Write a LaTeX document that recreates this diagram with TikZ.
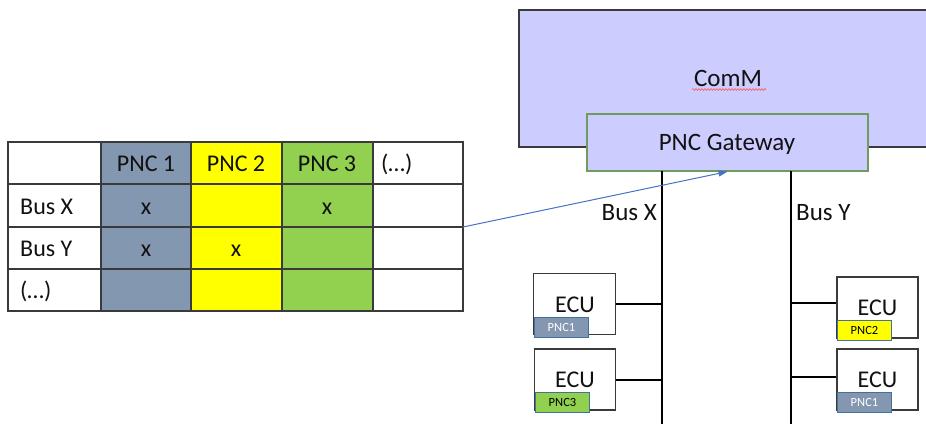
\documentclass[tikz,border=0pt]{standalone}
\usepackage{fontspec}
\setmainfont{Carlito}
\usetikzlibrary{decorations.pathmorphing,arrows.meta}
\definecolor{pncone}{HTML}{8497B0}
\definecolor{pnctwo}{HTML}{FFFF00}
\definecolor{pncthree}{HTML}{92D050}
\definecolor{commfill}{HTML}{CCCCFF}
\definecolor{gwborder}{HTML}{709B5C}
\definecolor{tagborder}{HTML}{41719C}
\definecolor{arrowblue}{HTML}{4472C4}
\definecolor{linegray}{HTML}{3A3A3A}
\definecolor{txt}{HTML}{111111}
\tikzset{
  bigtext/.style={font=\fontsize{24}{28}\selectfont, text=txt, inner sep=0pt},
  tableline/.style={draw=linegray, line width=1.2pt},
  ecubox/.style={draw=linegray, line width=1.2pt, fill=white, inner sep=0pt,
    minimum width=81pt, minimum height=61pt},
  tagbox/.style={draw=tagborder, line width=1pt, inner sep=0pt, anchor=north west,
    minimum width=54pt, minimum height=20pt, font=\fontsize{12.5}{14}\selectfont},
  bus/.style={draw=black, line width=2pt},
}
\begin{document}
\begin{tikzpicture}[x=1pt,y=-1pt]
\useasboundingbox (0,0) rectangle (926,423);

% ---------- table ----------
\fill[pncone]   (101,142) rectangle (191,311);
\fill[pnctwo]   (191,142) rectangle (282,311);
\fill[pncthree] (282,142) rectangle (373,311);
\draw[tableline] (8,142) rectangle (463,311);
\foreach \x in {101,191,282,373} \draw[tableline] (\x,142) -- (\x,311);
\foreach \y in {184,227,269} \draw[tableline] (8,\y) -- (463,\y);

\node[bigtext, anchor=base] (h1) at (146,171.5) {PNC 1};
\node[bigtext, anchor=base] (h2) at (236,171.5) {PNC 2};
\node[bigtext, anchor=base] (h3) at (327,171.5) {PNC 3};
\node[bigtext, anchor=base west] (h4) at (381,171.5) {(…)};
\node[bigtext, anchor=base west] (r1) at (20,214) {Bus X};
\node[bigtext, anchor=base west] (r2) at (20,256.5) {Bus Y};
\node[bigtext, anchor=base west] (r3) at (20,298.5) {(…)};
\node[bigtext, anchor=base] (x11) at (146,214) {x};
\node[bigtext, anchor=base] (x13) at (327,214) {x};
\node[bigtext, anchor=base] (x21) at (146,256.5) {x};
\node[bigtext, anchor=base] (x22) at (236,256.5) {x};
\coordinate (tblR) at (463,227);

% ---------- ComM ----------
\node[draw=linegray, line width=1.2pt, fill=commfill, minimum width=416pt, minimum height=137pt,
      inner sep=0pt] (comm) at (727,78.5) {};
\node[bigtext, font=\fontsize{25}{28}\selectfont, anchor=base] (commtxt) at (728,86.5) {ComM};
\draw[red!65, line width=0.6pt, decorate, decoration={snake, amplitude=0.9pt, segment length=3pt}]
  (692,89.5) -- (766,89.5);

\node[draw=gwborder, line width=1.2pt, fill=commfill, minimum width=281pt, minimum height=57pt,
      inner sep=0pt] (gw) at (727.5,142.5) {};
\node[bigtext, font=\fontsize{25}{28}\selectfont, anchor=base] (gwtxt) at (727,150) {PNC Gateway};

% ---------- buses ----------
\coordinate (bxtop) at (662,171);
\coordinate (bxbot) at (662,430);
\coordinate (bytop) at (791,171);
\coordinate (bybot) at (791,430);
\draw[bus] (bxtop) -- (bxbot);
\draw[bus] (bytop) -- (bybot);
\node[bigtext, anchor=base east, font=\fontsize{25}{28}\selectfont] (lbx) at (657,220) {Bus X};
\node[bigtext, anchor=base west, font=\fontsize{25}{28}\selectfont] (lby) at (796,220) {Bus Y};

% ---------- ECUs ----------
\node[ecubox, minimum width=82pt] (e1) at (574.5,304) {};
\node[ecubox, minimum width=81pt] (e2) at (575,379.5) {};
\node[ecubox] (e3) at (877.5,307.5) {};
\node[ecubox] (e4) at (877.5,379.5) {};
\node[bigtext, anchor=base] (e1t) at (575,312.5) {ECU};
\node[bigtext, anchor=base] (e2t) at (575,387.5) {ECU};
\node[bigtext, anchor=base] (e3t) at (877.5,315) {ECU};
\node[bigtext, anchor=base] (e4t) at (877.5,387.5) {ECU};

\node[tagbox, fill=pncone, text=white] (t1) at (534,316.5) {PNC1};
\node[tagbox, fill=pncthree, text=black] (t2) at (535,391.5) {PNC3};
\node[tagbox, fill=pnctwo, text=black] (t3) at (837,319.5) {PNC2};
\node[tagbox, fill=pncone, text=white] (t4) at (837,391.5) {PNC1};

\draw[bus] (e1.east) -- (e1.east -| bxtop);
\draw[bus] (e2.east) -- (e2.east -| bxtop);
\draw[bus] (e3.west |- 0,303) -- (bytop |- 0,303);
\draw[bus] (e4.west |- 0,377) -- (bytop |- 0,377);

% ---------- arrow ----------
\draw[arrowblue, line width=1pt, -{Triangle[length=9pt,width=6pt]}] (tblR) -- (gw.south);
\end{tikzpicture}
\end{document}
